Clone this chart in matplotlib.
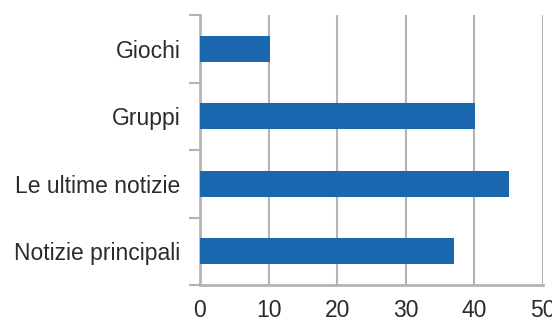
import matplotlib
matplotlib.use("Agg")
import matplotlib.pyplot as plt

categories = ["Notizie principali", "Le ultime notizie", "Gruppi", "Giochi"]
values = [37.0, 45.0, 40.1, 10.2]
x_ticks = [0, 10, 20, 30, 40, 50]

BAR_COLOR = "#1a67b0"
GRID_COLOR = "#b4b4b4"
TEXT_COLOR = "#2b2b2b"

plt.rcParams["font.family"] = ["Liberation Sans", "DejaVu Sans"]

fig = plt.figure(figsize=(5.52, 3.25), dpi=100)
ax = fig.add_axes([200 / 552, 40 / 325, 343 / 552, 270 / 325])

pos = list(range(len(categories)))
ax.barh(pos, values, height=0.38, color=BAR_COLOR, zorder=3)

ax.set_xlim(0, 50)
ax.set_ylim(-0.5, len(categories) - 0.5)
ax.set_xticks(x_ticks)
ax.set_xticklabels([str(t) for t in x_ticks])
ax.set_yticks(pos)
ax.set_yticklabels(categories)
ax.set_yticks([p - 0.5 for p in pos] + [len(categories) - 0.5], minor=True)

ax.grid(axis="x", color=GRID_COLOR, linewidth=1.5, zorder=0)
for side in ("top", "right"):
    ax.spines[side].set_visible(False)
for side in ("left", "bottom"):
    ax.spines[side].set_color(GRID_COLOR)
    ax.spines[side].set_linewidth(2)

ax.tick_params(axis="y", which="major", length=0, pad=14, labelsize=16.5, labelcolor=TEXT_COLOR)
ax.tick_params(axis="y", which="minor", length=8, width=1.5, color=GRID_COLOR)
ax.tick_params(axis="x", length=0, pad=10, labelsize=16.5, labelcolor=TEXT_COLOR)

fig.savefig("out.png", dpi=100)
